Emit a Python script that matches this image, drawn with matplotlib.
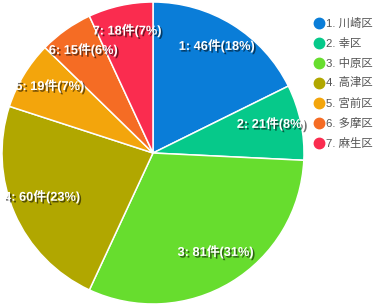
import matplotlib
matplotlib.use('Agg')
import matplotlib.pyplot as plt
import matplotlib.patheffects as pe
from matplotlib.lines import Line2D
import numpy as np

plt.rcParams['font.family'] = ['Liberation Sans', 'Noto Sans CJK JP']

# data
names = ['1. 川崎区', '2. 幸区', '3. 中原区', '4. 高津区', '5. 宮前区', '6. 多摩区', '7. 麻生区']
counts = [46, 21, 81, 60, 19, 15, 18]
colors = ['#0a7dd8', '#06c98a', '#67dd2e', '#b1a700', '#f3a50c', '#f56c24', '#fa2c4f']

total = sum(counts)

fig = plt.figure(figsize=(3.82, 3.08), dpi=100)
ax = fig.add_axes([2 / 382, 4 / 308, 302 / 382, 302 / 308])

wedges, _ = ax.pie(counts, colors=colors, startangle=90, counterclock=False,
                   radius=1, wedgeprops=dict(edgecolor='white', linewidth=1.1))
ax.set_xlim(-1, 1)
ax.set_ylim(-1, 1)
ax.set_aspect('equal')
ax.axis('off')

shadow = [pe.SimplePatchShadow(offset=(1.2, -1.2), shadow_rgbFace='black', alpha=0.55),
          pe.Normal()]
for i, w in enumerate(wedges):
    mid = np.deg2rad((w.theta1 + w.theta2) / 2)
    r = 0.8
    pct = round(counts[i] / total * 100)
    ax.text(r * np.cos(mid), r * np.sin(mid) + 0.03, f'{i + 1}: {counts[i]}件({pct}%)',
            ha='center', va='center', color='white', fontsize=9.2, fontweight='bold',
            path_effects=shadow)

# legend
for i, n in enumerate(names):
    y = 1 - (23 + 20 * i) / 308
    fig.add_artist(Line2D([319 / 382], [y], marker='o', markersize=7.5,
                          color=colors[i], linestyle='none', transform=fig.transFigure))
    fig.text(326 / 382, y, n, ha='left', va='center', fontsize=8.2, color='#555555')

fig.savefig('out.png', dpi=100)
